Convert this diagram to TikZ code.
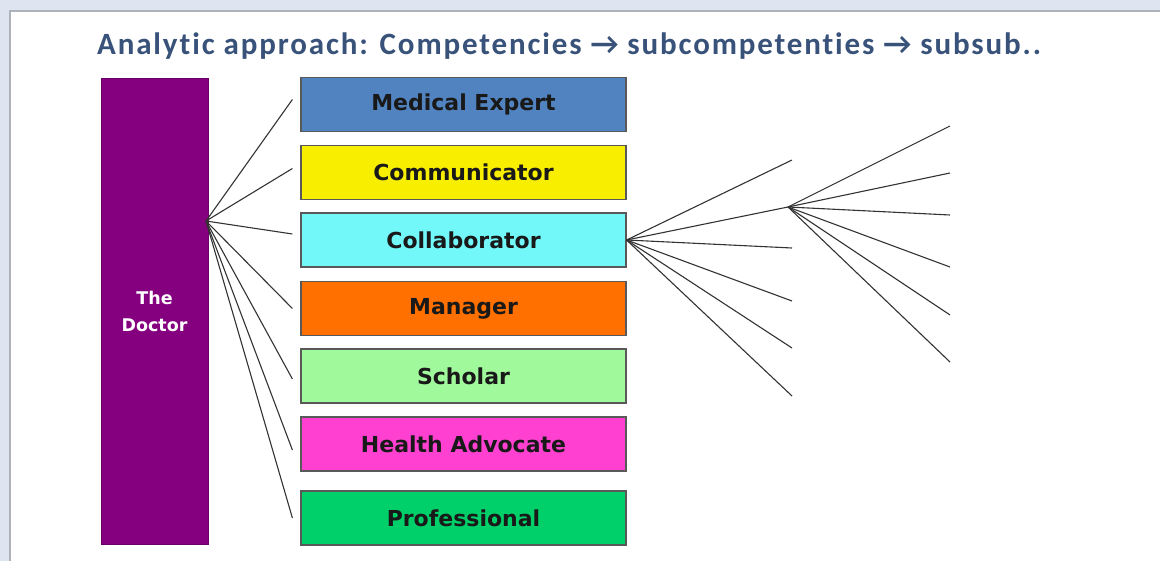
\documentclass[tikz,border=0pt]{standalone}
\usepackage{fontspec}
\setmainfont{DejaVu Sans}
\newfontfamily\titlefont[LetterSpace=6,Ligatures=NoCommon]{Carlito}

\definecolor{pagebg}{HTML}{DEE5F1}
\definecolor{panelrule}{HTML}{AEB2BA}
\definecolor{titleblue}{HTML}{38527A}
\definecolor{doctorpurple}{HTML}{84007F}
\definecolor{expertblue}{HTML}{5183C0}
\definecolor{commyellow}{HTML}{F8EF00}
\definecolor{collabcyan}{HTML}{72F8F8}
\definecolor{managerorange}{HTML}{FF7000}
\definecolor{scholargreen}{HTML}{A0FA9C}
\definecolor{advocatepink}{HTML}{FF40D0}
\definecolor{profgreen}{HTML}{00D06A}

\tikzset{
  comp/.style={draw=black!65, line width=1.2pt, minimum width=325pt, minimum height=54pt,
    inner sep=0pt, text=black!90, font=\bfseries\fontsize{22}{24}\selectfont},
  fan/.style={black!80, line width=1.1pt}
}

\begin{document}
\begin{tikzpicture}[x=1pt,y=-1pt]
    \useasboundingbox (0,0) rectangle (1160,561);
    \begin{scope}
      % page and panel
      \fill[pagebg] (0,0) rectangle (1160,561);
      \fill[white] (10,11) rectangle (1160,561);
      \draw[panelrule, line width=2pt] (10,561) -- (10,11) -- (1160,11);
      \node[anchor=base west, text=titleblue, inner sep=0pt,
        font=\titlefont\bfseries\fontsize{31}{33}\selectfont] (title) at (97,55)
        {Analytic approach: Competencies → subcompetenties → subsub..};

      % the doctor and the competencies
      \node[fill=doctorpurple, draw=doctorpurple!80!black, minimum width=107pt, minimum height=466pt,
        inner sep=0pt, align=center, text=white, font=\bfseries\fontsize{17.5}{27}\selectfont]
        (doctor) at (154.5,311) {The\\Doctor};
      \node[comp, fill=expertblue] (expert) at (463.5,104.5) {Medical Expert};
      \node[comp, fill=commyellow] (comm) at (463.5,172.5) {Communicator};
      \node[comp, fill=collabcyan] (collab) at (463.5,240) {Collaborator};
      \node[comp, fill=managerorange] (manager) at (463.5,308.5) {Manager};
      \node[comp, fill=scholargreen] (scholar) at (463.5,376) {Scholar};
      \node[comp, fill=advocatepink] (advocate) at (463.5,444) {Health Advocate};
      \node[comp, fill=profgreen] (prof) at (463.5,518) {Professional};

      % fan from the doctor
      \coordinate (hub) at (206,221);
      \draw[fan] (hub) -- ([xshift=-8pt,yshift=5pt]expert.west);
      \draw[fan] (hub) -- ([xshift=-8pt,yshift=4pt]comm.west);
      \draw[fan] (hub) -- ([xshift=-8pt,yshift=6pt]collab.west);
      \draw[fan] (hub) -- ([xshift=-8pt]manager.west);
      \draw[fan] (hub) -- ([xshift=-8pt,yshift=-3pt]scholar.west);
      \draw[fan] (hub) -- ([xshift=-8pt,yshift=-6pt]advocate.west);
      \draw[fan] (hub) -- ([xshift=-8pt]prof.west);

      % subcompetencies
      \coordinate (sub1) at (792,160);
      \coordinate (subhub) at (788,207);
      \coordinate (sub3) at (792,248);
      \coordinate (sub4) at (792,301);
      \coordinate (sub5) at (792,348);
      \coordinate (sub6) at (792,396);
      \draw[fan] (collab.east) -- (sub1);
      \draw[fan] (collab.east) -- (subhub);
      \draw[fan] (collab.east) -- (sub3);
      \draw[fan] (collab.east) -- (sub4);
      \draw[fan] (collab.east) -- (sub5);
      \draw[fan] (collab.east) -- (sub6);

      % subsub
      \coordinate (leaf1) at (950,126);
      \coordinate (leaf2) at (950,173);
      \coordinate (leaf3) at (950,215);
      \coordinate (leaf4) at (950,267);
      \coordinate (leaf5) at (950,315);
      \coordinate (leaf6) at (950,362);
      \draw[fan] (subhub) -- (leaf1);
      \draw[fan] (subhub) -- (leaf2);
      \draw[fan] (subhub) -- (leaf3);
      \draw[fan] (subhub) -- (leaf4);
      \draw[fan] (subhub) -- (leaf5);
      \draw[fan] (subhub) -- (leaf6);
    \end{scope}
  \end{tikzpicture}
\end{document}
